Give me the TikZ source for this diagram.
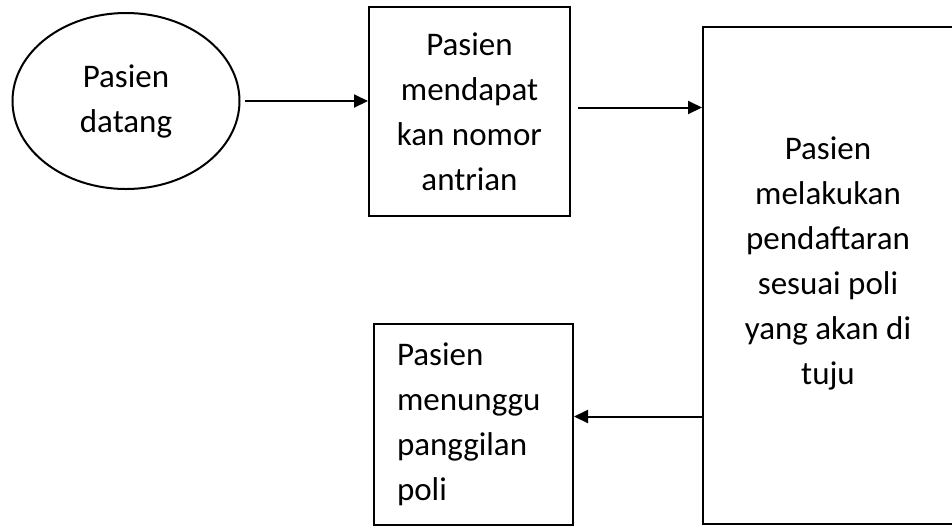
\documentclass[tikz,border=0pt]{standalone}
\usepackage{fontspec}
\setmainfont{Carlito}
\usepackage{tikz}
\usetikzlibrary{arrows.meta,shapes.geometric}
\tikzset{
	flowbox/.style={draw, line width=1pt, rectangle, inner sep=0pt, align=center, font=\fontsize{16.5pt}{22.5pt}\selectfont},
	flowoval/.style={draw, line width=1pt, ellipse, inner sep=0pt, align=center, font=\fontsize{16.5pt}{22.5pt}\selectfont},
	flowarrow/.style={line width=1pt, -{Triangle[length=7pt,width=6.5pt]}}
}

\begin{document}
\begin{tikzpicture}[x=0.5pt, y=-0.5pt]
		%%%%% START %%%%%
		
		\useasboundingbox (0, 0) rectangle (952, 527);
		
		\node[flowoval, minimum width=113.5pt, minimum height=88pt] (datang) at (126, 101) {Pasien\\datang};
		\node[flowbox, minimum width=100.5pt, minimum height=104.5pt] (antrian) at (469.5, 111.5) {Pasien\\mendapat\\kan nomor\\antrian};
		\node[flowbox, minimum width=125pt, minimum height=248.5pt, text depth=15pt] (daftar) at (828, 275.5) {Pasien\\melakukan\\pendaftaran\\sesuai poli\\yang akan di\\tuju};
		\node[flowbox, minimum width=99.5pt, minimum height=100.5pt, text width=76.5pt, align=left] (tunggu) at (473.5, 424.5) {Pasien\\menunggu\\panggilan\\poli};
		
		\draw[flowarrow] ([xshift=2pt]datang.east) -- (datang.east -| antrian.west);
		\draw[flowarrow] ([xshift=3.5pt, yshift=2pt]antrian.east) -- ([yshift=2pt]antrian.east -| daftar.west);
		\draw[flowarrow] ([yshift=4pt]tunggu.east -| daftar.west) -- ([yshift=4pt]tunggu.east);
		
		%%%%% END %%%%%
	\end{tikzpicture}
\end{document}
